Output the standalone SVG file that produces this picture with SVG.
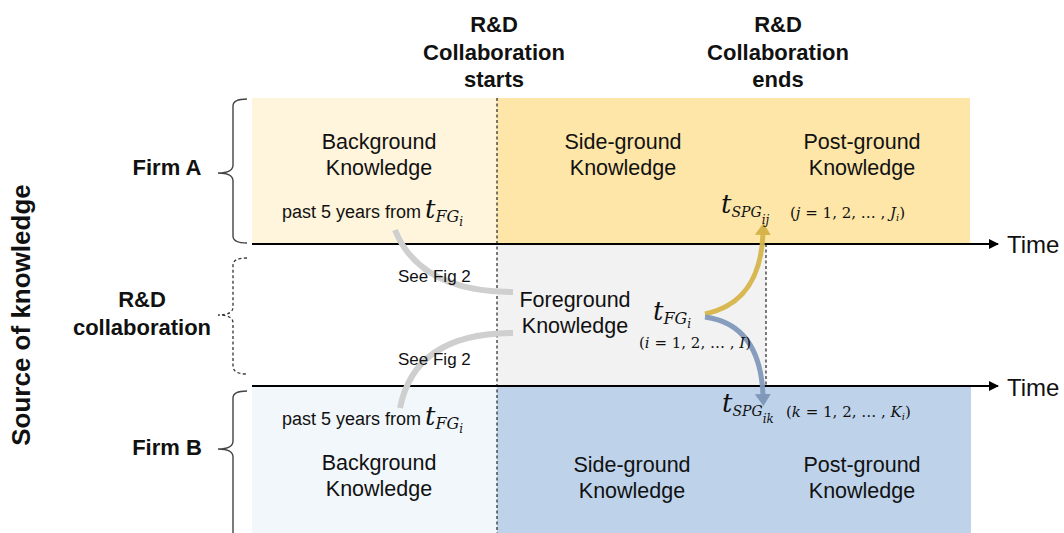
<svg xmlns="http://www.w3.org/2000/svg" width="1064" height="533" viewBox="0 0 1064 533">
<defs>
<style>
.t{font-family:"Liberation Sans",Arial,sans-serif;fill:#111;}
.b{font-weight:bold;}
.body{font-size:21.5px;}
.hd{font-size:22px;font-weight:bold;}
.m{font-family:"DejaVu Serif","Liberation Serif",serif;fill:#111;}
.i{font-style:italic;}
.ax{stroke:#000;stroke-width:2;fill:none;}
.dash{stroke:#333;stroke-width:1.3;stroke-dasharray:3,2.5;fill:none;}
.brace{stroke:#444;stroke-width:1.4;fill:none;}
.grey{stroke:#cfcfcf;stroke-width:6;fill:none;}
</style>
<marker id="ah" viewBox="0 0 10 10" refX="9" refY="5" markerWidth="10" markerHeight="10" markerUnits="userSpaceOnUse" orient="auto"><path d="M0,0 L10,5 L0,10 z" fill="#000"/></marker>
<marker id="ahY" viewBox="0 0 12 16" refX="1" refY="8" markerWidth="12" markerHeight="16" markerUnits="userSpaceOnUse" orient="auto"><path d="M0,0 L12,8 L0,16 z" fill="#d6b44a"/></marker>
<marker id="ahB" viewBox="0 0 12 16" refX="1" refY="8" markerWidth="12" markerHeight="16" markerUnits="userSpaceOnUse" orient="auto"><path d="M0,0 L12,8 L0,16 z" fill="#7f98ba"/></marker>
</defs>

<g id="regions">
<rect x="252" y="98" width="245" height="146" fill="#fff5dc"/>
<rect x="497" y="98" width="473" height="146" fill="#fde6a8"/>
<rect x="497" y="245" width="269" height="141" fill="#f2f2f2"/>
<rect x="252" y="387" width="245" height="146" fill="#f2f7fb"/>
<rect x="497" y="387" width="474" height="146" fill="#bed3ea"/>
</g>

<g id="lines">
<line class="dash" x1="497" y1="98" x2="497" y2="533"/>
<line class="dash" x1="766" y1="244" x2="766" y2="386"/>
<line class="ax" x1="252" y1="244" x2="998" y2="244" marker-end="url(#ah)"/>
<line class="ax" x1="252" y1="386" x2="998" y2="386" marker-end="url(#ah)"/>
</g>

<g id="braces">
<path class="brace" d="M247,99 Q233,99 233,106 L233,165 Q233,173 218,173 Q233,173 233,181 L233,236 Q233,243 247,243"/>
<path class="dash" d="M247,258 Q233,258 233,265 L233,307 Q233,315 218,315 Q233,315 233,323 L233,366 Q233,374 247,374"/>
<path class="brace" d="M247,391 Q233,391 233,398 L233,441 Q233,449 218,449 Q233,449 233,457 L233,533"/>
</g>

<g id="connectors">
<path class="grey" d="M395,230 Q420,292 513,292"/>
<path class="grey" d="M513,333 Q415,333 400,408"/>
<path d="M705,314 C742,306 761,280 763,234" stroke="#d6b44a" stroke-opacity="0.95" stroke-width="5" fill="none" marker-end="url(#ahY)"/>
<path d="M705,317 C742,322 761,348 763,395" stroke="#7f98ba" stroke-opacity="0.95" stroke-width="5" fill="none" marker-end="url(#ahB)"/>
</g>

<g id="labels-left">
<text class="t b" x="23" y="315" font-size="26" text-anchor="middle" dominant-baseline="middle" transform="rotate(-90 23 315)">Source of knowledge</text>
<text class="t hd" x="167" y="175" text-anchor="middle">Firm A</text>
<text class="t hd" x="142" y="307" text-anchor="middle">R&amp;D</text>
<text class="t hd" x="142" y="335" text-anchor="middle">collaboration</text>
<text class="t hd" x="167" y="455" text-anchor="middle">Firm B</text>
</g>

<g id="headers">
<text class="t hd" x="494" y="32" text-anchor="middle">R&amp;D</text>
<text class="t hd" x="494" y="60" text-anchor="middle">Collaboration</text>
<text class="t hd" x="494" y="87" text-anchor="middle">starts</text>
<text class="t hd" x="778" y="32" text-anchor="middle">R&amp;D</text>
<text class="t hd" x="778" y="60" text-anchor="middle">Collaboration</text>
<text class="t hd" x="778" y="87" text-anchor="middle">ends</text>
<text class="t" x="1007" y="253" font-size="24">Time</text>
<text class="t" x="1007" y="396" font-size="24">Time</text>
</g>

<g id="firmA">
<text class="t body" x="379" y="149" text-anchor="middle">Background</text>
<text class="t body" x="379" y="175" text-anchor="middle">Knowledge</text>
<text class="t" x="282" y="218" font-size="18">past 5 years from</text>
<text class="m i" x="425" y="218" font-size="26">t<tspan font-size="16" dy="4">FG</tspan><tspan font-size="12" dy="4">i</tspan></text>
<text class="t body" x="623" y="149" text-anchor="middle">Side-ground</text>
<text class="t body" x="623" y="175" text-anchor="middle">Knowledge</text>
<text class="t body" x="862" y="149" text-anchor="middle">Post-ground</text>
<text class="t body" x="862" y="175" text-anchor="middle">Knowledge</text>
<text class="m i" x="721" y="213" font-size="26">t<tspan font-size="14" dy="4">SPG</tspan><tspan font-size="12" dy="7">ij</tspan></text>
<text class="m" x="790" y="218" font-size="15">(<tspan class="i">j</tspan> = 1, 2, … , <tspan class="i">J</tspan><tspan class="i" font-size="10" dy="3">i</tspan><tspan dy="-3">)</tspan></text>
</g>

<g id="collab">
<text class="t body" x="575" y="307" text-anchor="middle">Foreground</text>
<text class="t body" x="575" y="333" text-anchor="middle">Knowledge</text>
<text class="t" x="398" y="282" font-size="17">See Fig 2</text>
<text class="t" x="398" y="365" font-size="17">See Fig 2</text>
<text class="m i" x="653" y="320" font-size="26">t<tspan font-size="16" dy="4">FG</tspan><tspan font-size="12" dy="4">i</tspan></text>
<text class="m" x="639" y="348" font-size="15">(<tspan class="i">i</tspan> = 1, 2, … , <tspan class="i">I</tspan>)</text>
</g>

<g id="firmB">
<text class="t" x="282" y="425" font-size="18">past 5 years from</text>
<text class="m i" x="425" y="425" font-size="26">t<tspan font-size="16" dy="4">FG</tspan><tspan font-size="12" dy="4">i</tspan></text>
<text class="t body" x="379" y="470" text-anchor="middle">Background</text>
<text class="t body" x="379" y="496" text-anchor="middle">Knowledge</text>
<text class="t body" x="632" y="472" text-anchor="middle">Side-ground</text>
<text class="t body" x="632" y="498" text-anchor="middle">Knowledge</text>
<text class="t body" x="862" y="472" text-anchor="middle">Post-ground</text>
<text class="t body" x="862" y="498" text-anchor="middle">Knowledge</text>
<text class="m i" x="722" y="412" font-size="26">t<tspan font-size="14" dy="4">SPG</tspan><tspan font-size="12" dy="7">ik</tspan></text>
<text class="m" x="786" y="417" font-size="15">(<tspan class="i">k</tspan> = 1, 2, … , <tspan class="i">K</tspan><tspan class="i" font-size="10" dy="3">i</tspan><tspan dy="-3">)</tspan></text>
</g>
</svg>
